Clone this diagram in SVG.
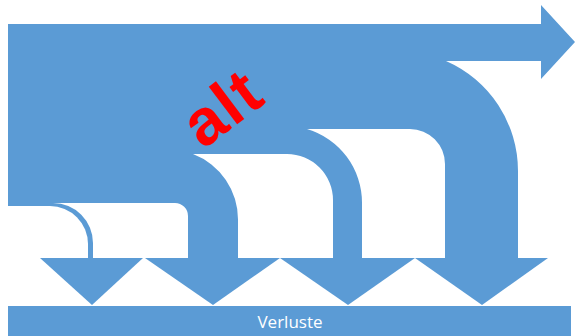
<svg xmlns="http://www.w3.org/2000/svg" width="575" height="336" viewBox="0 0 575 336">
  <style>
    .flow { fill: #5B9BD5; }
    .gap { fill: #FFFFFF; }
    .bar-label { font-family: "Open Sans", "Liberation Sans", sans-serif; font-size: 17px; fill: #FFFFFF; }
    .note { font-family: "Liberation Sans", Arial, sans-serif; font-weight: bold; font-size: 65px; letter-spacing: 2px; fill: #FF0000; }
  </style>
  <rect width="575" height="336" fill="#FFFFFF"/>

  <!-- Sankey bands: one blue body with the output arrow, white gaps between the branches -->
  <g id="connectors">
    <path class="flow" d="M8,24 H541 V5 L575,42 L541,79 V61 H446 A120,120 0 0 1 518,171 V258 H8 Z"/>
    <path class="gap" d="M8,206 H50 A38,38 0 0 1 88,244 V258 H8 Z"/>
    <path class="gap" d="M53,203 H175 A13,13 0 0 1 188,216 V258 H93 V243 A40,40 0 0 0 53,203 Z"/>
    <path class="gap" d="M193,154 H287 A46,46 0 0 1 333,200 V258 H238 V220 A70,70 0 0 0 193,154 Z"/>
    <path class="gap" d="M307,129 H410 A35,35 0 0 1 445,164 V258 H362 V203 A77,77 0 0 0 307,129 Z"/>
  </g>

  <!-- arrowheads of the loss branches -->
  <g id="loss-heads">
    <polygon class="flow" points="40,258 143,258 92,305"/>
    <polygon class="flow" points="145,258 280,258 213,305"/>
    <polygon class="flow" points="280,258 415,258 348,305"/>
    <polygon class="flow" points="415,258 548,258 482,305"/>
  </g>

  <!-- losses bar -->
  <g id="losses">
    <rect class="flow" x="8" y="306" width="563" height="30"/>
    <text class="bar-label" x="290" y="327.5" text-anchor="middle">Verluste</text>
  </g>

  <!-- annotation -->
  <g id="note-alt">
    <text class="note" x="203" y="150" transform="rotate(-37 203 150)">alt</text>
  </g>
</svg>
